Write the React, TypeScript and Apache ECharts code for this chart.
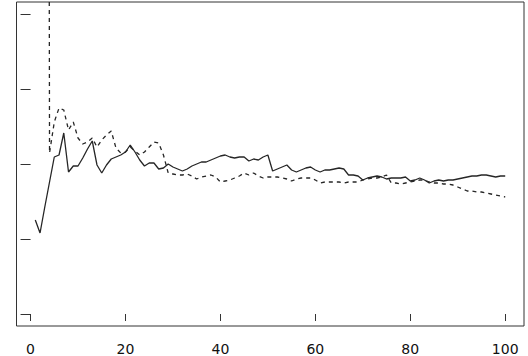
import React, { useEffect, useRef } from "react";
import * as echarts from "echarts";

// Tick positions
const xTicks = [0, 20, 40, 60, 80, 100];
const yTicks = [0, 75, 150, 225, 300];

// Series values, index 1..100
const solidValues = [
  94, 81, 107, 132, 157, 159, 181, 142, 148, 148,
  156, 165, 173, 149, 141, 149, 155, 157, 159, 162,
  169, 162, 154, 148, 151, 151, 145, 146, 150, 147,
  145, 143, 145, 148, 150, 152, 152, 154, 156, 158,
  159, 157, 156, 157, 157, 153, 155, 154, 157, 159,
  143, 145, 147, 149, 144, 142, 144, 146, 147, 144,
  142, 144, 144, 145, 146, 145, 139, 139, 138, 134,
  136, 137, 138, 137, 135, 136, 136, 136, 137, 133,
  134, 136, 134, 131, 133, 134, 133, 134, 134, 135,
  136, 137, 138, 138, 139, 139, 138, 137, 138, 138,
];

const dashedValues: (number | null)[] = [
  null, null, 3000, 161, 192, 206, 204, 184, 192, 176,
  170, 172, 176, 167, 174, 179, 183, 166, 161, 162,
  167, 163, 159, 162, 167, 172, 171, 159, 141, 140,
  139, 139, 140, 138, 135, 137, 138, 139, 137, 132,
  133, 134, 136, 138, 141, 139, 141, 138, 136, 137,
  137, 137, 136, 135, 133, 135, 136, 136, 136, 134,
  131, 132, 132, 132, 132, 131, 132, 132, 132, 134,
  135, 136, 136, 137, 139, 131, 131, 130, 131, 132,
  133, 134, 134, 132, 131, 131, 130, 130, 129, 127,
  125, 123, 123, 122, 122, 121, 120, 119, 118, 117,
];

const toPairs = (vals: (number | null)[]) =>
  vals
    .map((v, i) => [i + 1, v] as [number, number | null])
    .filter((p) => p[1] !== null);

export default function App() {
  const ref = useRef<HTMLDivElement>(null);
  useEffect(() => {
    if (!ref.current) return;
    const chart = echarts.init(ref.current, undefined, { renderer: "svg" });
    const lineColor = "#262626";
    chart.setOption({
      animation: false,
      backgroundColor: "#ffffff",
      grid: {
        left: 16.5,
        right: 4,
        top: 2,
        bottom: 29.5,
        show: true,
        borderColor: "#333",
        borderWidth: 1,
        backgroundColor: "transparent",
      },
      xAxis: {
        type: "value",
        min: -2.96,
        max: 103.96,
        axisLine: { show: false },
        splitLine: { show: false },
        axisTick: {
          show: true,
          length: 7,
          customValues: xTicks,
          lineStyle: { color: "#333", width: 1 },
        },
        axisLabel: {
          show: true,
          customValues: xTicks,
          margin: 16,
          color: "#111",
          fontFamily: "DejaVu Sans",
          fontSize: 14,
        },
      },
      yAxis: {
        type: "value",
        min: -12,
        max: 312,
        axisLine: { show: false },
        splitLine: { show: false },
        axisTick: {
          show: true,
          length: 10,
          customValues: yTicks,
          lineStyle: { color: "#333", width: 1 },
        },
        axisLabel: { show: false },
      },
      series: [
        {
          name: "solid",
          type: "line",
          data: toPairs(solidValues),
          showSymbol: false,
          clip: true,
          lineStyle: { color: lineColor, width: 1.3, type: "solid" },
        },
        {
          name: "dashed",
          type: "line",
          data: toPairs(dashedValues),
          showSymbol: false,
          clip: true,
          lineStyle: { color: lineColor, width: 1.3, type: [4, 4] },
        },
      ],
    });
    return () => chart.dispose();
  }, []);
  return (
    <div
      ref={ref}
      style={{ position: "fixed", left: 0, top: 0, width: 528, height: 356 }}
    />
  );
}
